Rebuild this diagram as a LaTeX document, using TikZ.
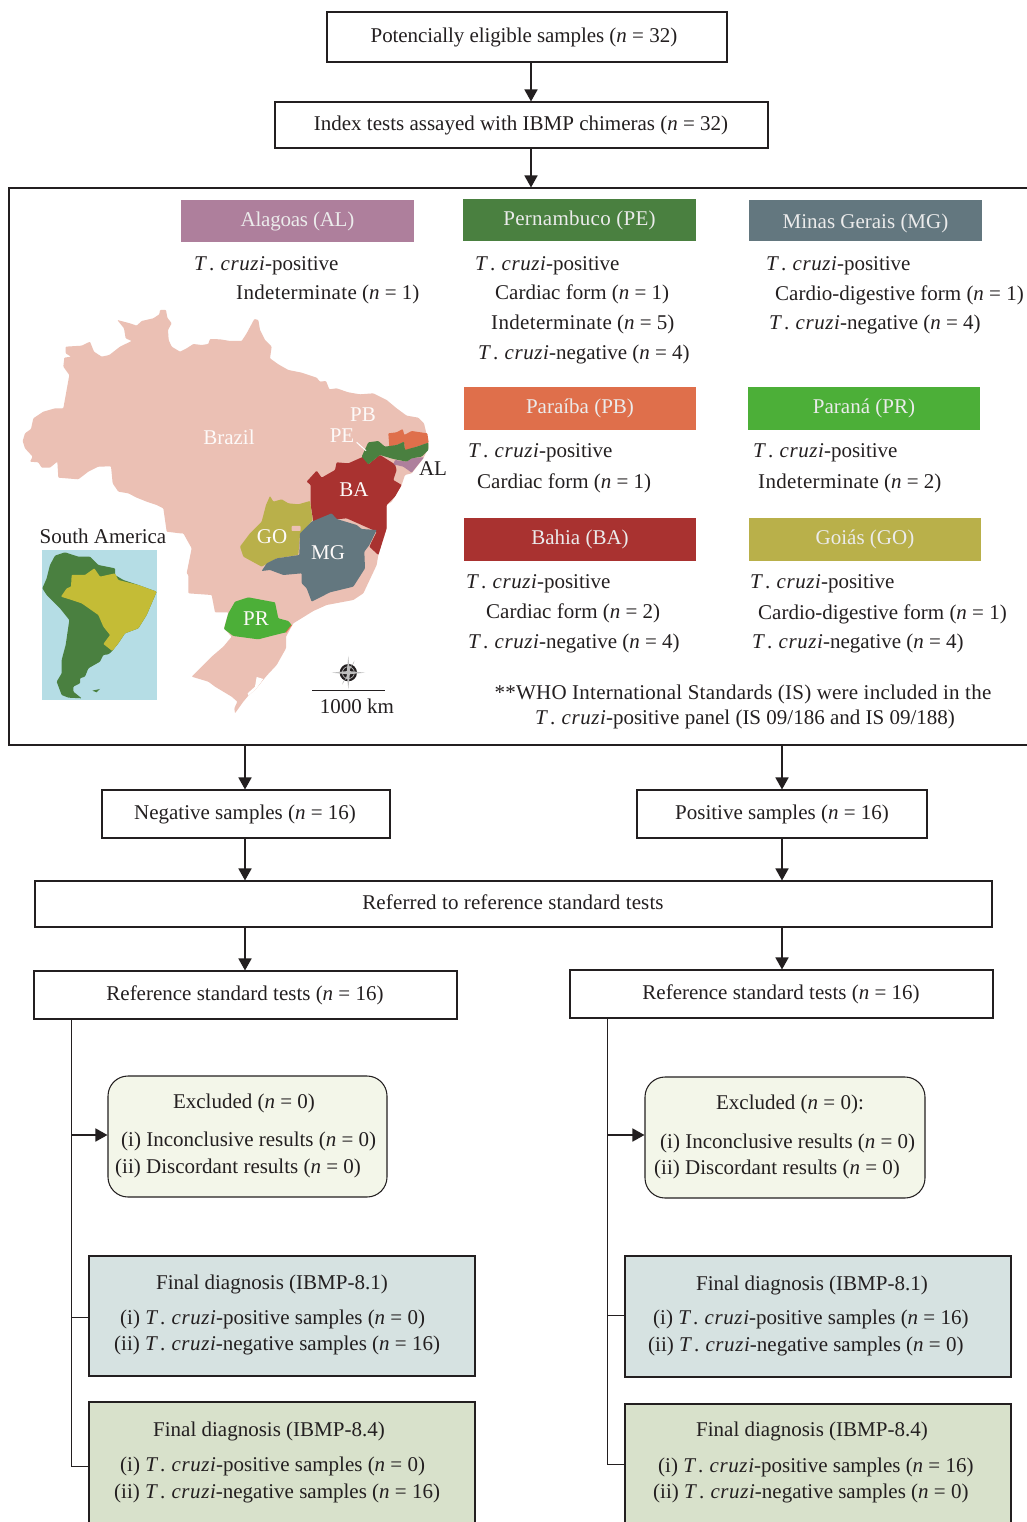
\documentclass[tikz,border=0pt]{standalone}
\usepackage{fontspec}
\setmainfont{Liberation Serif}
\usetikzlibrary{arrows.meta}
\definecolor{ink}{HTML}{231F20}
\definecolor{cAL}{HTML}{AE7F9C}
\definecolor{cPE}{HTML}{4A8040}
\definecolor{cMG}{HTML}{63777F}
\definecolor{cPB}{HTML}{DF6F4B}
\definecolor{cPR}{HTML}{4CAF38}
\definecolor{cBA}{HTML}{A93230}
\definecolor{cGO}{HTML}{B9B04A}
\definecolor{cBR}{HTML}{EBC0B4}
\definecolor{cSea}{HTML}{B5DDE5}
\definecolor{cSAy}{HTML}{C4BC36}
\definecolor{cEx}{HTML}{F3F6E9}
\definecolor{cA}{HTML}{D6E2E1}
\definecolor{cB}{HTML}{D8E1CB}
\newcommand{\tc}{\textit{T}\kern2pt.\kern1pt{} \textit{c\kern.6pt r\kern.6pt u\kern.6pt z\kern.6pt i}}
\newcommand{\nn}[1]{(\textit{n} = #1)}
\newcommand{\spaced}[2]{{\addfontfeature{LetterSpace=#1}#2}}
\tikzset{
  every node/.style={font=\fontsize{21}{24}\selectfont,text=ink},
  flowbox/.style={draw=ink,line width=1.05pt,fill=white,inner sep=0pt},
  roundbox/.style={flowbox,rounded corners=20pt,fill=cEx},
  headbox/.style={inner sep=0pt,text=white!92!black},
  txt/.style={anchor=base west,inner sep=0pt},
  ctr/.style={anchor=base,inner sep=0pt},
  maplbl/.style={anchor=center,inner sep=0pt,text=white!92!cBR},
  arr/.style={draw=ink,line width=1.6pt,-{Triangle[length=12pt,width=13pt]}},
  trunk/.style={draw=ink,line width=1pt},
  land/.style={rounded corners=0.8pt},
}
\newcommand{\flowbox}[6][flowbox]{% style,name,x0,y0,x1,y1
  \node[#1,minimum width=#5pt-#3pt,minimum height=#6pt-#4pt] (#2) at ({(#3+#5)/2},{(#4+#6)/2}) {};}
\begin{document}
\begin{tikzpicture}[x=1pt,y=-1pt]
\useasboundingbox (0,0) rectangle (1027,1522);
\clip (0,0) rectangle (1027,1522);
\fill[white] (0,0) rectangle (1027,1522);

% boxes
\flowbox{b1}{327}{12}{727}{62}
\flowbox{b2}{275}{102}{768}{148}
\flowbox{panel}{9}{188}{1060}{745}
\flowbox{neg}{102}{790}{390}{838}
\flowbox{pos}{637}{790}{927}{838}
\flowbox{ref}{35}{881}{992}{927}
\flowbox{refL}{34}{971}{457}{1019}
\flowbox{refR}{570}{970}{993}{1018}
\flowbox[roundbox]{exL}{108}{1076}{387}{1197}
\flowbox[roundbox]{exR}{645}{1077}{925}{1198}
\flowbox[flowbox,fill=cA]{faL}{89}{1256}{475}{1376}
\flowbox[flowbox,fill=cB]{fbL}{89}{1402}{475}{1560}
\flowbox[flowbox,fill=cA]{faR}{625}{1256}{1011}{1377}
\flowbox[flowbox,fill=cB]{fbR}{625}{1404}{1011}{1560}

% connector guide lines
\coordinate (cT) at (531,0);
\coordinate (cL) at (245,0);
\coordinate (cR) at (782,0);
\coordinate (tL) at (71,0);
\coordinate (tR) at (607,0);
\draw[arr] (cT |- b1.south) -- (cT |- b2.north);
\draw[arr] (cT |- b2.south) -- (cT |- panel.north);
\draw[arr] (cL |- panel.south) -- (cL |- neg.north);
\draw[arr] (cR |- panel.south) -- (cR |- pos.north);
\draw[arr] (cL |- neg.south) -- (cL |- ref.north);
\draw[arr] (cR |- pos.south) -- (cR |- ref.north);
\draw[arr] (cL |- ref.south) -- (cL |- refL.north);
\draw[arr] (cR |- ref.south) -- (cR |- refR.north);
\coordinate (jaL) at (0,1317);
\coordinate (jbL) at (0,1466);
\coordinate (jxL) at (0,1135);
\coordinate (jaR) at (0,1315);
\coordinate (jbR) at (0,1464);
\coordinate (jxR) at (0,1135);
\draw[trunk] (tL |- refL.south) -- (tL |- jbL) -- (faL.west |- jbL);
\draw[trunk] (tL |- jaL) -- (faL.west |- jaL);
\draw[arr] (tL |- jxL) -- (exL.west |- jxL);
\draw[trunk] (tR |- refR.south) -- (tR |- jbR) -- (faR.west |- jbR);
\draw[trunk] (tR |- jaR) -- (faR.west |- jaR);
\draw[arr] (tR |- jxR) -- (exR.west |- jxR);

% flow texts
\node[ctr] (t01) at (524,43) {\spaced{-0.4}{Potencially eligible samples} \nn{32}};
\node[ctr] (t02) at (521,131) {Index tests assayed with IBMP chimeras \nn{32}};
\node[ctr] (t03) at (245,819) {Negative samples \nn{16}};
\node[ctr] (t04) at (782,819) {Positive samples \nn{16}};
\node[ctr] (t05) at (513,909) {\spaced{0.6}{Referred to reference standard tests}};
\node[ctr] (t06) at (245,1000) {Reference standard tests \nn{16}};
\node[ctr] (t07) at (781,999) {Reference standard tests \nn{16}};

\node[ctr] (t10) at (244,1108) {Excluded \nn{0}};
\node[txt] (t11) at (121,1146) {(i) Inconclusive results \nn{0}};
\node[txt] (t12) at (115,1173) {(ii) Discordant results \nn{0}};
\node[ctr] (t13) at (272,1289) {Final diagnosis (IBMP-8.1)};
\node[txt] (t14) at (120,1324) {(i) \tc-positive samples \nn{0}};
\node[txt] (t15) at (114,1350) {(ii) \tc-negative samples \nn{16}};
\node[ctr] (t16) at (269,1436) {Final diagnosis (IBMP-8.4)};
\node[txt] (t17) at (120,1471) {(i) \tc-positive samples \nn{0}};
\node[txt] (t18) at (114,1498) {(ii) \tc-negative samples \nn{16}};

\node[ctr] (t20) at (790,1109) {Excluded \nn{0}:};
\node[txt] (t21) at (660,1148) {(i) Inconclusive results \nn{0}};
\node[txt] (t22) at (654,1174) {(ii) Discordant results \nn{0}};
\node[ctr] (t23) at (812,1290) {Final diagnosis (IBMP-8.1)};
\node[txt] (t24) at (653,1324) {(i) \tc-positive samples \nn{16}};
\node[txt] (t25) at (648,1351) {(ii) \tc-negative samples \nn{0}};
\node[ctr] (t26) at (812,1436) {Final diagnosis (IBMP-8.4)};
\node[txt] (t27) at (658,1472) {(i) \tc-positive samples \nn{16}};
\node[txt] (t28) at (653,1498) {(ii) \tc-negative samples \nn{0}};

% state headers
\newcommand{\statehead}[7]{\node[headbox,fill=#6,minimum width=#4pt-#2pt,minimum height=#5pt-#3pt] (#1) at ({(#2+#4)/2},{(#3+#5)/2}) {#7};}
\statehead{hAL}{181}{200}{414}{242}{cAL}{\spaced{-1.2}{Alagoas (AL)}}
\statehead{hPE}{463}{199}{696}{241}{cPE}{\spaced{1.3}{Pernambuco (PE)}}
\statehead{hMG}{749}{200}{982}{241}{cMG}{\raisebox{-3pt}[14.5pt][4.6pt]{Minas Gerais (MG)}}
\statehead{hPB}{464}{387}{696}{430}{cPB}{Paraíba (PB)}
\statehead{hPR}{748}{387}{980}{430}{cPR}{Paraná (PR)}
\statehead{hBA}{464}{518}{696}{561}{cBA}{Bahia (BA)}
\statehead{hGO}{749}{518}{981}{561}{cGO}{Goiás (GO)}

% state texts
\node[txt] (s01) at (194,270) {\tc-positive};
\node[txt] (s02) at (236,299) {\spaced{1.6}{Indeterminate} \nn{1}};
\node[txt] (s03) at (475,270) {\tc-positive};
\node[txt] (s04) at (495,299) {Cardiac form \nn{1}};
\node[txt] (s05) at (491,329) {\spaced{1.6}{Indeterminate} \nn{5}};
\node[txt] (s06) at (478,359) {\tc-negative \nn{4}};
\node[txt] (s07) at (766,270) {\tc-positive};
\node[txt] (s08) at (775,300) {Cardio-digestive form \nn{1}};
\node[txt] (s09) at (769,329) {\tc-negative \nn{4}};
\node[txt] (s10) at (468,457) {\tc-positive};
\node[txt] (s11) at (477,488) {Cardiac form \nn{1}};
\node[txt] (s12) at (753,457) {\tc-positive};
\node[txt] (s13) at (758,488) {\spaced{1.6}{Indeterminate} \nn{2}};
\node[txt] (s14) at (466,588) {\tc-positive};
\node[txt] (s15) at (486,618) {Cardiac form \nn{2}};
\node[txt] (s16) at (468,648) {\tc-negative \nn{4}};
\node[txt] (s17) at (750,588) {\tc-positive};
\node[txt] (s18) at (758,619) {Cardio-digestive form \nn{1}};
\node[txt] (s19) at (752,648) {\tc-negative \nn{4}};
\node[ctr] (s20) at (743,699) {\spaced{1.1}{**WHO International Standards (IS) were included in the}};
\node[ctr] (s21) at (745,724) {\tc-positive panel (IS 09/186 and IS 09/188)};

% map (coordinates are 3x picture pixels)
\begin{scope}[x=0.33333pt,y=-0.33333pt]
\fill[cBR,land] (480,930)--(498,930)--(502,953)--(515,970)--(504,990)--(506,1020)--(515,1040)--(540,1055)--(560,1045)--(580,1032)--(605,1035)--(625,1032)--(630,1017)--(660,1018)--(690,1023)--(725,1023)--(740,1000)--(763,957)--(775,960)--(780,990)--(795,1020)--(815,1040)--(810,1075)--(835,1093)--(865,1110)--(905,1118)--(950,1133)--(960,1145)--(978,1143)--(988,1168)--(1010,1165)--(1045,1177)--(1080,1183)--(1120,1180)--(1160,1200)--(1190,1225)--(1220,1247)--(1255,1253)--(1272,1270)--(1285,1325)--(1285,1345)--(1270,1375)--(1235,1420)--(1215,1425)--(1205,1455)--(1175,1505)--(1160,1515)--(1160,1585)--(1135,1665)--(1130,1695)--(1090,1780)--(1060,1800)--(980,1815)--(940,1833)--(880,1870)--(858,1910)--(858,1945)--(830,1995)--(802,2025)--(792,2037)--(768,2067)--(745,2087)--(730,2105)--(705,2140)--(703,2125)--(712,2105)--(695,2090)--(645,2060)--(625,2045)--(575,2030)--(600,2005)--(635,1970)--(670,1940)--(695,1910)--(672,1885)--(685,1837)--(645,1837)--(635,1785)--(565,1780)--(565,1725)--(560,1720)--(575,1645)--(550,1600)--(540,1600)--(500,1595)--(490,1525)--(470,1515)--(440,1505)--(410,1493)--(385,1480)--(355,1475)--(338,1450)--(333,1399)--(295,1400)--(265,1415)--(235,1438)--(175,1433)--(172,1385)--(150,1403)--(125,1403)--(115,1387)--(90,1385)--(98,1370)--(75,1345)--(68,1323)--(75,1300)--(93,1287)--(100,1255)--(130,1235)--(165,1225)--(190,1225)--(208,1125)--(190,1100)--(193,1073)--(213,1070)--(197,1060)--(197,1040)--(245,1037)--(270,1025)--(282,1055)--(305,1070)--(328,1065)--(360,1040)--(395,1023)--(377,1015)--(372,985)--(352,960)--(390,970)--(410,977)--(425,963)--(460,955)--(478,943)--cycle;
\fill[white] (770,2031)--(790,2037)--(768,2067)--(745,2087)--(743,2080)--(765,2060)--cycle;
\fill[cBA,land] (920,1445)--(950,1412)--(965,1433)--(1005,1410)--(1010,1387)--(1045,1390)--(1090,1370)--(1105,1393)--(1140,1365)--(1185,1393)--(1190,1410)--(1180,1440)--(1205,1455)--(1185,1490)--(1160,1515)--(1160,1585)--(1135,1665)--(1108,1640)--(1130,1595)--(1040,1555)--(940,1565)--(932,1515)--(932,1455)--cycle;
\fill[cGO,land] (810,1488)--(820,1505)--(845,1498)--(865,1510)--(895,1513)--(930,1503)--(938,1560)--(900,1605)--(895,1665)--(830,1675)--(785,1700)--(730,1670)--(720,1640)--(750,1600)--(785,1565)--(798,1515)--cycle;
\fill[cBR,land] (875,1578) rectangle (902,1593);
\fill[cMG,land] (785,1713)--(800,1690)--(830,1675)--(898,1665)--(900,1600)--(935,1565)--(995,1540)--(1010,1557)--(1070,1575)--(1085,1587)--(1130,1590)--(1108,1635)--(1093,1655)--(1095,1705)--(1060,1760)--(990,1777)--(935,1805)--(920,1765)--(905,1750)--(905,1720)--(850,1725)--(810,1710)--cycle;
\fill[cPR,land] (672,1887)--(685,1840)--(705,1805)--(745,1792)--(825,1807)--(835,1855)--(865,1863)--(875,1875)--(858,1897)--(825,1905)--(775,1918)--(700,1908)--cycle;
\draw[cPB,line width=0.8pt] (875,1875)--(858,1897);
\fill[cPB,land] (1165,1300)--(1190,1297)--(1208,1287)--(1213,1305)--(1235,1293)--(1282,1300)--(1286,1328)--(1250,1340)--(1215,1352)--(1212,1325)--(1190,1335)--(1168,1340)--cycle;
\fill[cAL,land] (1180,1393)--(1185,1380)--(1220,1385)--(1238,1373)--(1272,1372)--(1235,1418)--(1210,1400)--cycle;
\fill[cPE,land] (1085,1370)--(1105,1327)--(1135,1323)--(1155,1340)--(1190,1335)--(1212,1325)--(1215,1350)--(1250,1340)--(1285,1328)--(1285,1350)--(1265,1370)--(1235,1375)--(1220,1385)--(1180,1377)--(1140,1365)--(1105,1393)--cycle;
\draw[white,line width=1pt] (1070,1327)--(1098,1352);
% inset
\fill[cSea] (127,1650) rectangle (472,2100);
\begin{scope}[shift={(105,1635)}]
\fill[cPE,land] (60,32)--(90,22)--(130,35)--(165,35)--(190,60)--(240,70)--(240,90)--(265,105)--(310,120)--(365,140)--(350,175)--(335,210)--(310,250)--(270,265)--(250,295)--(230,320)--(220,328)--(205,330)--(195,350)--(160,370)--(150,395)--(135,400)--(135,415)--(115,425)--(115,440)--(140,460)--(100,458)--(80,450)--(65,410)--(80,385)--(80,345)--(92,300)--(103,225)--(75,190)--(35,150)--(22,130)--(35,100)--(45,60)--cycle;
\fill[cSAy,land] (110,90)--(150,90)--(178,70)--(195,95)--(240,85)--(250,105)--(310,120)--(365,140)--(350,175)--(335,210)--(310,250)--(270,265)--(250,295)--(232,318)--(205,297)--(225,270)--(205,245)--(190,210)--(140,175)--(110,165)--(78,155)--(95,130)--(108,125)--cycle;
\fill[cPE] (172,437)--(195,432)--(185,442)--cycle;
\end{scope}
% compass and scale
\fill[ink] (1045,2018) circle (26);
\draw[gray!55,line width=0.7pt] (1045,2018) circle (18);
\fill[gray!60] (1045,2018)--(1045,2000) arc (90:0:18)--cycle;
\fill[gray!60] (1045,2018)--(1045,2036) arc (270:180:18)--cycle;
\fill[gray!50] (1045,1968)--(1050,2018)--(1045,2068)--(1040,2018)--cycle;
\fill[gray!50] (995,2018)--(1045,2013)--(1095,2018)--(1045,2023)--cycle;
\draw[ink,line width=1.6pt] (936,2072)--(1155,2072);
\end{scope}

\node[maplbl] (mBrazil) at (229,437) {Brazil};
\node[maplbl] (mPB) at (363,415) {PB};
\node[maplbl] (mPE) at (342,436) {PE};
\node[maplbl] (mBA) at (354,490) {BA};
\node[maplbl] (mGO) at (272,537) {GO};
\node[maplbl] (mMG) at (328,553) {MG};
\node[maplbl] (mPR) at (256,619) {PR};
\node[anchor=center,inner sep=0pt] (mAL) at (433,469) {AL};
\node[anchor=center,inner sep=0pt] (mSA) at (103,536) {South America};
\node[anchor=center,inner sep=0pt] (mKm) at (357,706) {1000 km};
\end{tikzpicture}
\end{document}
